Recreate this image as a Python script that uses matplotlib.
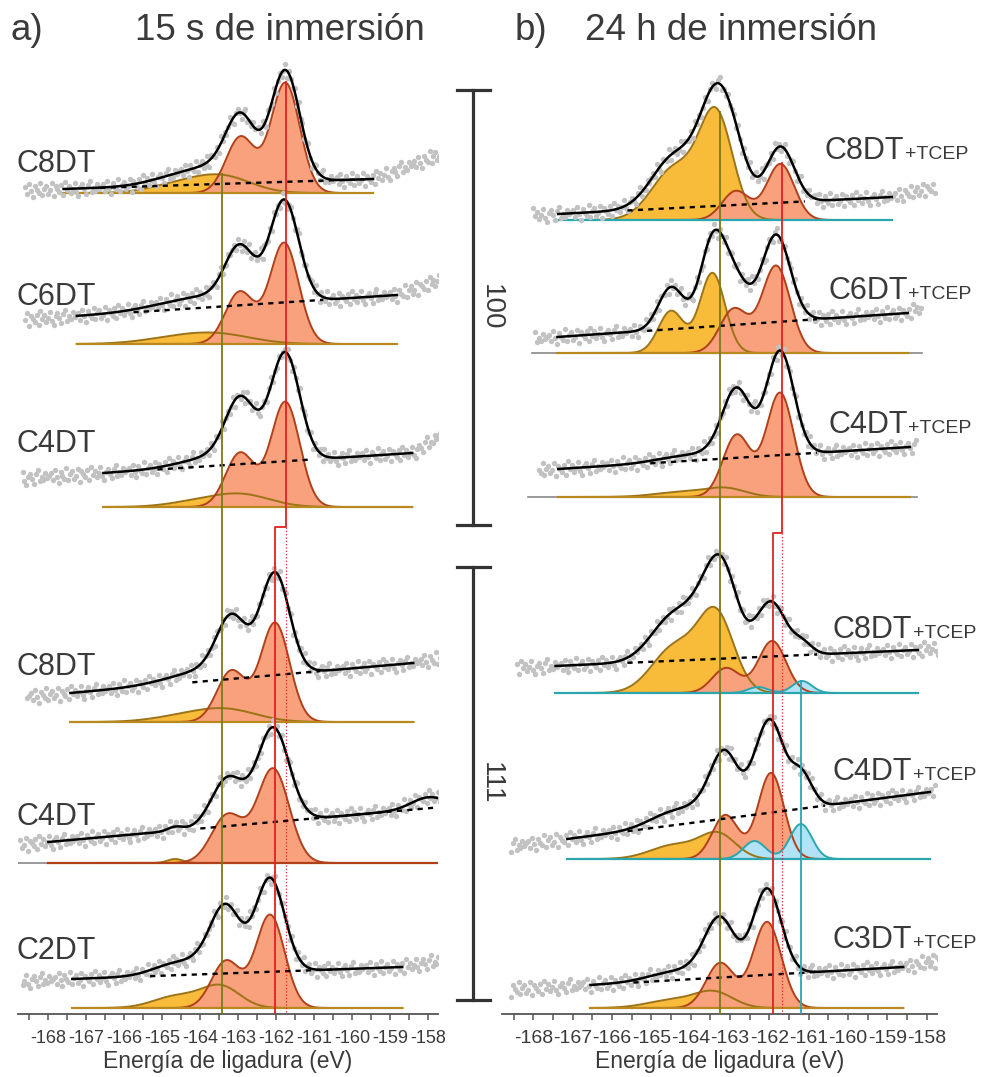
import numpy as np
import matplotlib
matplotlib.use('Agg')
import matplotlib.pyplot as plt
from matplotlib.ticker import MultipleLocator

plt.rcParams['font.family'] = ['Liberation Sans', 'DejaVu Sans']
plt.rcParams['axes.unicode_minus'] = False

# ---- data (binding energy in eV, intensity in a.u.) ----
labels_a = ['C8DT', 'C6DT', 'C4DT', 'C8DT', 'C4DT', 'C2DT']
labels_b = ['C8DT', 'C6DT', 'C4DT', 'C8DT', 'C4DT', 'C3DT']

# fitted peaks: (centre, height, sigma)
orange_a = [[(-163.4, 16, 0.75), (-164.6, 8, 0.75)],
            [(-163.5, 9, 0.9), (-164.7, 5, 0.9)],
            [(-162.9, 12, 0.75), (-164.1, 5, 0.75)],
            [(-163.3, 12, 0.8), (-164.5, 5, 0.8)],
            [(-164.66, 4, 0.2)],
            [(-163.45, 21, 0.5), (-164.6, 12, 0.62)]]
salmon_a = [[(-161.76, 110, 0.38), (-162.94, 56, 0.38)],
            [(-161.79, 101, 0.38), (-162.96, 52, 0.38)],
            [(-161.76, 105, 0.38), (-162.95, 54, 0.38)],
            [(-162.03, 99, 0.38), (-163.18, 51, 0.38)],
            [(-162.08, 94, 0.42), (-163.28, 48, 0.42)],
            [(-162.16, 93, 0.38), (-163.32, 47, 0.38)]]
cyan_a = [[], [], [], [], [], []]
extra_a = [[], [], [], [], [(-158.0, 11, 0.45)], []]

orange_b = [[(-163.35, 102, 0.42), (-164.4, 52, 0.58)],
            [(-163.45, 80, 0.32), (-164.5, 42, 0.32)],
            [(-163.1, 8, 0.5), (-164.2, 5, 0.7)],
            [(-163.35, 76, 0.45), (-164.4, 46, 0.58)],
            [(-163.3, 24, 0.45), (-164.4, 14, 0.62)],
            [(-163.4, 15, 0.48), (-164.45, 8, 0.65)]]
salmon_b = [[(-161.72, 56, 0.35), (-162.85, 29, 0.35)],
            [(-161.83, 87, 0.36), (-162.9, 44, 0.36)],
            [(-161.73, 104, 0.35), (-162.83, 62, 0.35)],
            [(-161.93, 52, 0.35), (-163.1, 25, 0.35)],
            [(-161.96, 86, 0.33), (-163.12, 44, 0.33)],
            [(-162.06, 86, 0.36), (-163.25, 45, 0.36)]]
cyan_b = [[], [], [],
          [(-161.17, 12, 0.25), (-162.29, 6, 0.25)],
          [(-161.2, 35, 0.28), (-162.38, 18, 0.28)],
          []]
extra_b = [[], [], [], [], [], []]

# fit range and linear background at its two ends
fit_a = [(-167.6, -159.45), (-167.25, -158.82), (-166.55, -158.42),
         (-167.42, -158.39), (-168.0, -157.63), (-167.37, -158.68)]
bg_a = [(4, 14), (28, 49), (34, 54), (29, 59), (21, 56), (29, 41)]
fit_b = [(-167.37, -158.89), (-167.39, -158.48), (-167.37, -158.43),
         (-167.44, -158.23), (-167.14, -157.92), (-166.55, -158.6)]
bg_b = [(6, 23), (16, 40), (28, 50), (27, 43), (20, 67), (23, 41)]

# measured points range and rise of the raw data past the fit window
dots_a = [(-168.61, -157.55), (-168.61, -157.68), (-168.68, -157.55),
          (-168.55, -157.42), (-168.74, -157.63), (-168.68, -157.68)]
rise_a = [24, 12, 18, 3, 0, 5]
dots_b = [(-168.0, -157.75), (-167.95, -158.13), (-167.87, -158.25),
          (-168.41, -157.62), (-168.58, -157.75), (-168.58, -157.67)]
rise_b = [8, 4, 0, 1, 0, 5]

# drawn part of the dashed background
dash_a = [(-166.63, -159.53), (-165.76, -160.76), (-165.13, -161.1),
          (-164.21, -160.84), (-164.0, -157.63), (-165.32, -160.5)]
dash_b = [(-165.61, -161.1), (-165.11, -160.79), (-165.03, -160.79),
          (-165.61, -160.79), (-165.61, -160.59), (-165.46, -160.72)]

# scatter of the raw counts around the fit
residuals = [3, -4, 6, -1, -7, 4, 0, -3, 7, -5, 1, 4, -4, -1, 6, -7, 3, 0, -3, 4,
             -6, 7, -1, 3, -4, 0, 6, -3, -7, 1, 4, -1, -6, 3, 7, -4, 0, -3, 4, -1, 1]

# ---- layout ----
offset_a = [821, 670, 507, 292, 151, 6]
offset_b = [794, 661, 517, 321, 155, 6]
basecol_a = ['o', 'o', 'o', 'o', 's', 'o']
basecol_b = ['c', 'o', 'o', 'c', 'c', 'o']
graybase_a = [None, None, None, None, (-168.8, -168.0), None]
graybase_b = [None, (-168.03, -158.13), (-168.13, -158.25), None, None, None]

ORANGE, ORANGE_E = '#F9BB3A', '#9C7316'
SALMON, SALMON_E = '#F9A07C', '#B0401A'
CYAN, CYAN_E = '#B2E2F5', '#2AA7AE'
BASE = {'o': '#B8891E', 's': '#B0401A', 'c': '#2AA7AE'}
TXT = '#3a3a3a'


def peaks(x, plist):
    y = np.zeros_like(x)
    for c, h, s in plist:
        y += h * np.exp(-(x - c) ** 2 / (2 * s ** 2))
    return y


def background(x, fit, bg):
    return bg[0] + (bg[1] - bg[0]) * (x - fit[0]) / (fit[1] - fit[0])


def draw_panel(ax, orange, salmon, cyan, extra, fit, bg, dots, rise, dash,
               offset, basecol, graybase, shift):
    for i in range(6):
        y0 = offset[i]
        x = np.linspace(fit[i][0], fit[i][1], 500)
        po = peaks(x, orange[i])
        ps = peaks(x, salmon[i])
        pc = peaks(x, cyan[i])
        if graybase[i]:
            ax.plot(graybase[i], [y0, y0], color='#888888', lw=1.2, zorder=4)
        if orange[i]:
            ax.fill_between(x, y0, y0 + po, color=ORANGE, lw=0, zorder=2)
        ax.fill_between(x, y0, y0 + ps, where=ps > 0.3, color=SALMON, lw=0, zorder=3)
        if cyan[i]:
            ax.fill_between(x, y0, y0 + pc, where=pc > 0.3, color=CYAN, lw=0, zorder=4)
        if orange[i]:
            ax.plot(x, y0 + po, color=ORANGE_E, lw=1.4, zorder=5)
        ax.plot(x, y0 + ps, color=SALMON_E, lw=1.4, zorder=5)
        if cyan[i]:
            ax.plot(x, y0 + pc, color=CYAN_E, lw=1.4, zorder=5)
        ax.plot(fit[i], [y0, y0], color=BASE[basecol[i]], lw=1.6, zorder=5)

        # raw data points
        xd = np.arange(dots[i][0], dots[i][1], 0.05)
        yd = y0 + background(xd, fit[i], bg[i]) + peaks(xd, orange[i]) + \
            peaks(xd, salmon[i]) + peaks(xd, cyan[i]) + peaks(xd, extra[i])
        past = xd > fit[i][1]
        yd[past] += rise[i] * (xd[past] - fit[i][1]) / (dots[i][1] - fit[i][1])
        r = np.array([residuals[(k + shift * 7 + i * 13) % len(residuals)]
                      for k in range(len(xd))])
        ax.scatter(xd, yd + r, s=15, color='#C2C2C2', lw=0, zorder=6)

        env = y0 + background(x, fit[i], bg[i]) + po + ps + pc + peaks(x, extra[i])
        ax.plot(x, env, color='black', lw=1.8, zorder=7)

        xb = np.linspace(dash[i][0], dash[i][1], 50)
        ax.plot(xb, y0 + background(xb, fit[i], bg[i]), color='black', lw=1.7,
                ls=(0, (2.2, 2.2)), zorder=8)


def style_axis(ax, fs):
    ax.set_xlim(-168.8, -157.74)
    ax.set_ylim(0, 954)
    ax.patch.set_alpha(0)
    for s in ['left', 'right', 'top']:
        ax.spines[s].set_visible(False)
    ax.spines['bottom'].set_color('#555555')
    ax.spines['bottom'].set_linewidth(1.3)
    ax.set_yticks([])
    ax.xaxis.set_major_locator(MultipleLocator(1))
    ax.xaxis.set_minor_locator(MultipleLocator(0.5))
    ax.xaxis.set_major_formatter(lambda v, p: '%d' % round(v))
    ax.tick_params(axis='x', which='both', direction='out', length=4.5, width=1.1,
                   color='#555555', labelsize=fs, labelcolor=TXT, pad=7)
    ax.set_xlabel('Energía de ligadura (eV)', fontsize=16.5, color=TXT, labelpad=2)


fig = plt.figure(figsize=(9.89, 10.77), dpi=100)
W, H = 989.0, 1077.0
ax_a = fig.add_axes([18 / W, (H - 1014) / H, 420 / W, 954 / H])
ax_b = fig.add_axes([502 / W, (H - 1014) / H, 435 / W, 954 / H])

draw_panel(ax_a, orange_a, salmon_a, cyan_a, extra_a, fit_a, bg_a, dots_a, rise_a,
           dash_a, offset_a, basecol_a, graybase_a, 0)
draw_panel(ax_b, orange_b, salmon_b, cyan_b, extra_b, fit_b, bg_b, dots_b, rise_b,
           dash_b, offset_b, basecol_b, graybase_b, 3)
style_axis(ax_a, 13)
style_axis(ax_b, 14)

# reference lines
OLIVE, RED = '#7B7A18', '#E02222'
ax_a.plot([-163.42, -163.42], [840, 0], color=OLIVE, lw=1.3, zorder=9)
ax_a.plot([-161.74, -161.74, -162.03, -162.03], [932, 487, 487, 0], color=RED, lw=1.3, zorder=9)
ax_a.plot([-161.74, -161.74], [487, 0], color=RED, lw=0.9, ls=':', zorder=9)
ax_b.plot([-163.25, -163.25], [902, 0], color=OLIVE, lw=1.3, zorder=9)
ax_b.plot([-161.68, -161.68, -161.9, -161.9], [851, 481, 481, 0], color=RED, lw=1.3, zorder=9)
ax_b.plot([-161.68, -161.68], [481, 0], color=RED, lw=0.9, ls=':', zorder=9)
ax_b.plot([-161.2, -161.2], [333, 0], color=CYAN_E, lw=1.3, zorder=9)

# overlay in pixel coordinates for labels and scale bars
ov = fig.add_axes([0, 0, 1, 1])
ov.set_xlim(0, W)
ov.set_ylim(H, 0)
ov.axis('off')

for y_top, y_bot, lab in [(90, 525, '100'), (567, 1000, '111')]:
    ov.plot([473, 473], [y_top, y_bot], color='#333333', lw=2.3)
    ov.plot([457, 490], [y_top, y_top], color='#333333', lw=2.3)
    ov.plot([457, 490], [y_bot, y_bot], color='#333333', lw=2.3)
    ov.text(491, (y_top + y_bot) / 2, lab, rotation=-90, fontsize=20, color=TXT,
            ha='center', va='center')

ov.text(10, 40, 'a)', fontsize=26.5, color=TXT)
ov.text(135, 40, '15 s de inmersión', fontsize=26.5, color=TXT)
ov.text(515, 40, 'b)', fontsize=26.5, color=TXT)
ov.text(585, 40, '24 h de inmersión', fontsize=26.5, color=TXT)

for lab, yb in zip(labels_a, [172, 305, 452, 675, 825, 959]):
    ov.text(17, yb, lab, fontsize=22, color=TXT, va='baseline')
for lab, xl, yb in zip(labels_b, [825, 828, 828, 833, 833, 833],
                       [159, 299, 433, 638, 780, 948]):
    ov.text(xl, yb, lab, fontsize=22, color=TXT, va='baseline')
    ov.text(xl + 80, yb, '+TCEP', fontsize=14, color=TXT, va='baseline')

fig.savefig('out.png', dpi=100)
